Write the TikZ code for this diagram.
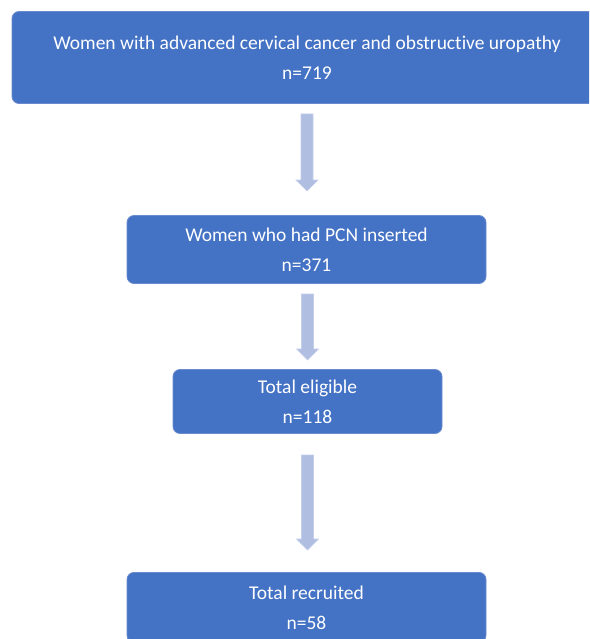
\documentclass[tikz,border=0pt]{standalone}
\usepackage{fontspec}
\setmainfont{Carlito}[Ligatures=NoCommon]
\usetikzlibrary{calc}
\definecolor{boxblue}{HTML}{4472C4}
\definecolor{boxedge}{HTML}{6A8BCD}
\definecolor{arrfill}{HTML}{B0BEE1}
\definecolor{arredge}{HTML}{C3CEEA}
\tikzset{
  flowbox/.style={draw=boxedge, line width=0.8pt, fill=boxblue, rounded corners=7pt,
    text=white, align=center, inner sep=0pt,
    font=\fontsize{19.5}{30}\selectfont},
  blockarrow/.style={fill=arrfill, draw=arredge, line width=0.6pt}
}
\newcommand{\blockarr}[3]{% x, ystart, ytip
  \filldraw[blockarrow] (#1-6,#2) -- (#1+6,#2) -- (#1+6,#3-11) -- (#1+11,#3-11)
    -- (#1,#3) -- (#1-11,#3-11) -- (#1-6,#3-11) -- cycle;}
\begin{document}
\begin{tikzpicture}[x=1pt,y=-1pt]
\useasboundingbox (0,0) rectangle (589,639);
\clip (0,0) rectangle (589,639);
\node[flowbox, minimum width=590pt, minimum height=92pt] (b1) at (307,57.5)
  {Women with advanced cervical cancer and obstructive uropathy\\n=719};
\node[flowbox, minimum width=359pt, minimum height=68pt] (b2) at (306.5,249.5)
  {Women who had PCN inserted\\n=371};
\node[flowbox, minimum width=269pt, minimum height=64pt] (b3) at (307.5,401.5)
  {Total eligible\\n=118};
\node[flowbox, minimum width=359pt, minimum height=70pt, anchor=north] (b4) at (306.5,572)
  {Total recruited\\n=58};
\coordinate (a1s) at (307,114); \coordinate (a1t) at (307,191);
\coordinate (a2s) at (307,294); \coordinate (a2t) at (307,360);
\coordinate (a3s) at (307,455); \coordinate (a3t) at (307,550);
\blockarr{307}{114}{191}
\blockarr{307.5}{294}{360}
\blockarr{307.5}{455}{550}
\end{tikzpicture}
\end{document}
